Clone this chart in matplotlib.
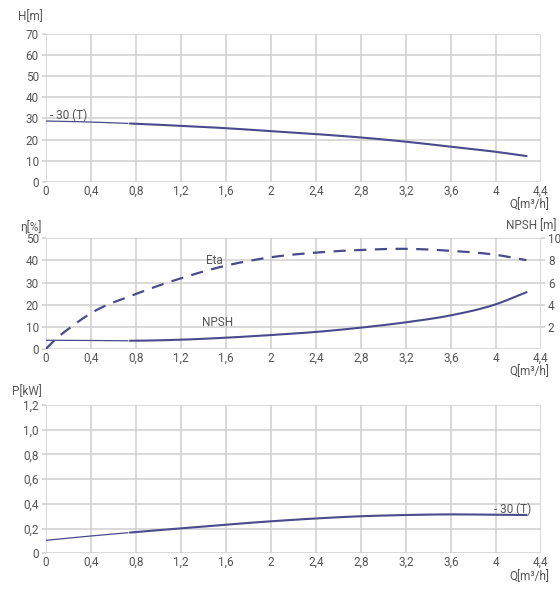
import matplotlib
matplotlib.use("Agg")
import matplotlib.pyplot as plt
import numpy as np

plt.rcParams['font.family'] = ['Roboto', 'DejaVu Sans']

# Data
q_ticks = [0, 0.4, 0.8, 1.2, 1.6, 2.0, 2.4, 2.8, 3.2, 3.6, 4.0, 4.4]
q_labels = ["0", "0,4", "0,8", "1,2", "1,6", "2", "2,4", "2,8", "3,2", "3,6", "4", "4,4"]

q_pts = [0, 0.4, 0.8, 1.2, 1.6, 2.0, 2.4, 2.8, 3.2, 3.6, 4.0, 4.27]
h_vals = [28.8, 28.3, 27.5, 26.5, 25.4, 24.0, 22.6, 21.0, 19.0, 16.6, 14.2, 12.2]
eta_q = [0, 0.1, 0.2, 0.4, 0.8, 1.2, 1.6, 2.0, 2.4, 2.8, 3.2, 3.6, 4.0, 4.27]
eta_vals = [0, 5.0, 9.0, 16.1, 24.8, 31.9, 37.6, 41.4, 43.5, 44.7, 45.2, 44.3, 42.5, 40.1]
npsh_vals = [0.79, 0.77, 0.75, 0.84, 1.02, 1.26, 1.54, 1.93, 2.41, 3.04, 4.04, 5.12]
p_vals = [0.105, 0.14, 0.172, 0.202, 0.232, 0.259, 0.282, 0.300, 0.310, 0.315, 0.312, 0.310]

h_ticks = [0, 10, 20, 30, 40, 50, 60, 70]
eta_ticks = [0, 10, 20, 30, 40, 50]
npsh_ticks = [2, 4, 6, 8, 10]
p_ticks = [0, 0.2, 0.4, 0.6, 0.8, 1.0, 1.2]
p_labels = ["0", "0,2", "0,4", "0,6", "0,8", "1,0", "1,2"]

line_c = '#4a4a8c'
grid_c = '#cfcfcf'
text_c = '#555555'
thin_end = 0.75
fs = 8.5

def smooth(x, y, n=200):
    xs = np.linspace(x[0], x[-1], n)
    x = np.asarray(x, float); y = np.asarray(y, float)
    ys = np.empty_like(xs)
    m = np.gradient(y, x)
    for i, xv in enumerate(xs):
        k = min(np.searchsorted(x, xv, side='right') - 1, len(x) - 2)
        h = x[k+1] - x[k]
        t = (xv - x[k]) / h
        h00 = 2*t**3 - 3*t**2 + 1; h10 = t**3 - 2*t**2 + t
        h01 = -2*t**3 + 3*t**2; h11 = t**3 - t**2
        ys[i] = h00*y[k] + h10*h*m[k] + h01*y[k+1] + h11*h*m[k+1]
    return xs, ys

def style(ax, yticks, ylabels, ylim):
    ax.set_xlim(0, 4.4)
    ax.set_ylim(*ylim)
    ax.set_xticks(q_ticks)
    ax.set_xticklabels(q_labels)
    ax.set_yticks(yticks)
    ax.set_yticklabels(ylabels)
    ax.grid(True, color=grid_c, linewidth=1.1)
    for s in ax.spines.values():
        s.set_visible(False)
    ax.tick_params(axis='both', colors=grid_c, labelcolor=text_c, labelsize=fs,
                   length=3, width=1.1, pad=2)
    ax.tick_params(axis='x', length=0, pad=2)

def draw_two(ax, x, y, **kw):
    xs, ys = smooth(x, y)
    ax.plot(xs[xs <= thin_end], ys[xs <= thin_end], color=line_c, lw=0.9, **kw)
    ax.plot(xs[xs >= thin_end - 0.01], ys[xs >= thin_end - 0.01], color=line_c, lw=1.5, **kw)

fig = plt.figure(figsize=(5.6, 6.0), dpi=100)
L, W = 0.0816, 0.966 - 0.0816

# Top: H
ax1 = fig.add_axes([L, 0.697, W, 0.9433 - 0.697])
style(ax1, h_ticks, [str(t) for t in h_ticks], (0, 70))
draw_two(ax1, q_pts, h_vals)
ax1.text(0.04, 31.3, "- 30 (T)", fontsize=fs, color=text_c, va='center')
fig.text(18/560, 1 - 17/600, "H[m]", fontsize=fs, color=text_c, va='center')
fig.text(529/560, 1 - 205/600, "Q[m³/h]", fontsize=fs, color=text_c, va='center', ha='center')

# Middle: Eta / NPSH
ax2 = fig.add_axes([L, 0.4183, W, 0.603 - 0.4183])
style(ax2, eta_ticks, [str(t) for t in eta_ticks], (0, 50))
xs, ys = smooth(eta_q, eta_vals)
ax2.plot(xs, ys, color=line_c, lw=1.6, dashes=(5.5, 3.8))
ax3 = ax2.twinx()
ax3.set_ylim(0, 10)
ax3.set_yticks(npsh_ticks)
ax3.set_yticklabels([str(t) for t in npsh_ticks])
for s in ax3.spines.values():
    s.set_visible(False)
ax3.tick_params(axis='y', colors=grid_c, labelcolor=text_c, labelsize=fs, length=3, width=1.1, pad=2)
draw_two(ax3, q_pts, npsh_vals)
ax2.text(1.5, 40.0, "Eta", fontsize=fs, color=text_c, ha='center', va='center')
ax2.text(1.53, 11.9, "NPSH", fontsize=fs, color=text_c, ha='center', va='center')
fig.text(20/560, 1 - 227/600, "η[%]", fontsize=fs, color=text_c, va='center')
fig.text(557/560, 1 - 226/600, "NPSH [m]", fontsize=fs, color=text_c, va='center', ha='right')
fig.text(529/560, 1 - 372/600, "Q[m³/h]", fontsize=fs, color=text_c, va='center', ha='center')

# Bottom: P
ax4 = fig.add_axes([L, 0.0778, W, 0.325 - 0.0778])
style(ax4, p_ticks, p_labels, (0, 1.2))
draw_two(ax4, q_pts, p_vals)
ax4.text(3.98, 0.358, "- 30 (T)", fontsize=fs, color=text_c, va='center')
fig.text(12/560, 1 - 392/600, "P[kW]", fontsize=fs, color=text_c, va='center')
fig.text(529/560, 1 - 577/600, "Q[m³/h]", fontsize=fs, color=text_c, va='center', ha='center')

fig.savefig("out.png", dpi=100)
